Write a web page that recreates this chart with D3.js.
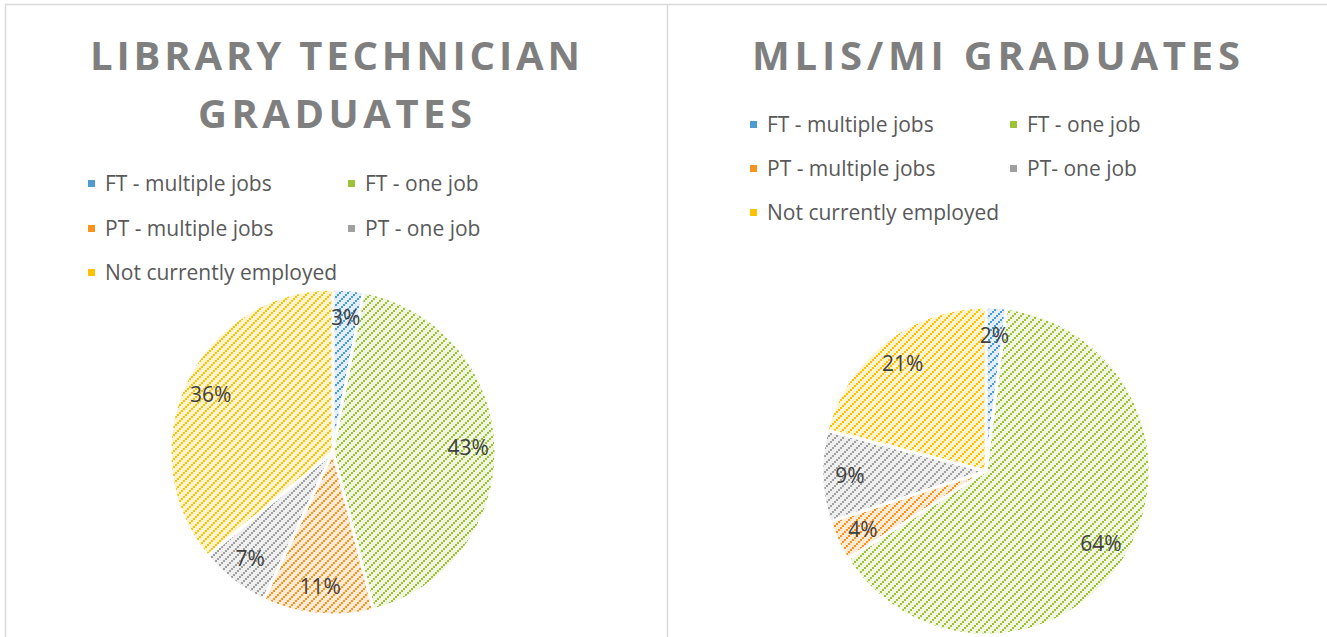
<!DOCTYPE html>
<html><head><meta charset="utf-8">
<script src="https://cdn.jsdelivr.net/npm/d3@7"></script>
<style>html,body{margin:0;padding:0;background:#fff;}svg{display:block;}</style>
</head><body>
<svg id="chart" width="1327" height="637"></svg>
<script>
const categories = ["FT - multiple jobs", "FT - one job", "PT - multiple jobs", "PT - one job", "Not currently employed"];
const categoriesRight = ["FT - multiple jobs", "FT - one job", "PT - multiple jobs", "PT- one job", "Not currently employed"];
const techValues = [3, 43, 11, 7, 36];
const mlisValues = [2, 64, 4, 9, 21];
const colors = ["#4e9bd2", "#9cc23a", "#f7931e", "#a0a0a0", "#ffc000"];
const tints = ["#e2eef8", "#f0f6e0", "#feebd6", "#efefef", "#fff4d2"];

const svg = d3.select("#chart");
const font = "'Open Sans', 'Liberation Sans', sans-serif";

// borders
svg.append("line").attr("x1",5).attr("x2",1327).attr("y1",4.5).attr("y2",4.5).attr("stroke","#d9d9d9").attr("stroke-width",1.5);
svg.append("line").attr("x1",5.5).attr("x2",5.5).attr("y1",4).attr("y2",637).attr("stroke","#d9d9d9").attr("stroke-width",1.5);
svg.append("line").attr("x1",667.5).attr("x2",667.5).attr("y1",4).attr("y2",637).attr("stroke","#d9d9d9").attr("stroke-width",1.5);

// patterns: diagonal chains of small squares
const defs = svg.append("defs");
colors.forEach((c,i)=>{
  const p = defs.append("pattern").attr("id","pat"+i).attr("patternUnits","userSpaceOnUse").attr("width",8).attr("height",8);
  p.append("rect").attr("width",8).attr("height",8).attr("fill",tints[i]);
  [[0,6],[2,4],[4,2],[6,0]].forEach(([x,y])=>{
    p.append("rect").attr("x",x).attr("y",y).attr("width",2.3).attr("height",2.3)
      .attr("fill",c).attr("shape-rendering","crispEdges");
  });
  [[1.6,5],[3.6,3],[5.6,1],[7.6,-1],[-0.4,7]].forEach(([x,y])=>{
    p.append("rect").attr("x",x).attr("y",y).attr("width",1.2).attr("height",1.2)
      .attr("fill",c).attr("opacity",0.35).attr("shape-rendering","crispEdges");
  });
});

function drawPanel(cfg){
  const g = svg.append("g");
  cfg.title.forEach((t,k)=>{
    g.append("text").attr("x",cfg.titleX).attr("y",cfg.titleY[k])
      .attr("text-anchor","middle").attr("font-family",font).attr("font-weight","bold")
      .attr("font-size",40).attr("fill","#7f7f7f")
      .attr("textLength",cfg.titleW[k]).attr("lengthAdjust","spacing").text(t);
  });
  cfg.labels.forEach((name,i)=>{
    const col = i%2, row = Math.floor(i/2);
    const x = cfg.legX[col], y = cfg.legY[row];
    g.append("rect").attr("x",x).attr("y",y-11).attr("width",7).attr("height",7).attr("fill",colors[i]);
    g.append("text").attr("x",x+17).attr("y",y).attr("font-family",font).attr("font-size",21)
      .attr("fill","#595959").text(name);
  });
  const pie = d3.pie().sort(null).value(d=>d)(cfg.values);
  const arc = d3.arc().innerRadius(0).outerRadius(cfg.r);
  const labelArc = d3.arc().innerRadius(cfg.r*0.83).outerRadius(cfg.r*0.83);
  const pg = g.append("g").attr("transform",`translate(${cfg.cx},${cfg.cy})`);
  pg.selectAll("path").data(pie).join("path")
    .attr("d",arc).attr("fill",(d,i)=>`url(#pat${i})`)
    .attr("stroke","#fff").attr("stroke-width",3).attr("stroke-linejoin","round");
  pg.selectAll("text").data(pie).join("text")
    .attr("transform",d=>`translate(${labelArc.centroid(d)})`)
    .attr("text-anchor","middle").attr("dy","0.36em")
    .attr("font-family",font).attr("font-size",21).attr("fill","#404040")
    .text(d=>d.data+"%");
}

drawPanel({title:["LIBRARY TECHNICIAN","GRADUATES"], titleX:335, titleY:[70,128], titleW:[490,274],
  labels:categories, values:techValues, legX:[88,348], legY:[191,236,280], cx:333, cy:452, r:163});
drawPanel({title:["MLIS/MI GRADUATES"], titleX:996, titleY:[70], titleW:[488],
  labels:categoriesRight, values:mlisValues, legX:[750,1010], legY:[132,176,220], cx:986, cy:471, r:164});
</script>
</body></html>
